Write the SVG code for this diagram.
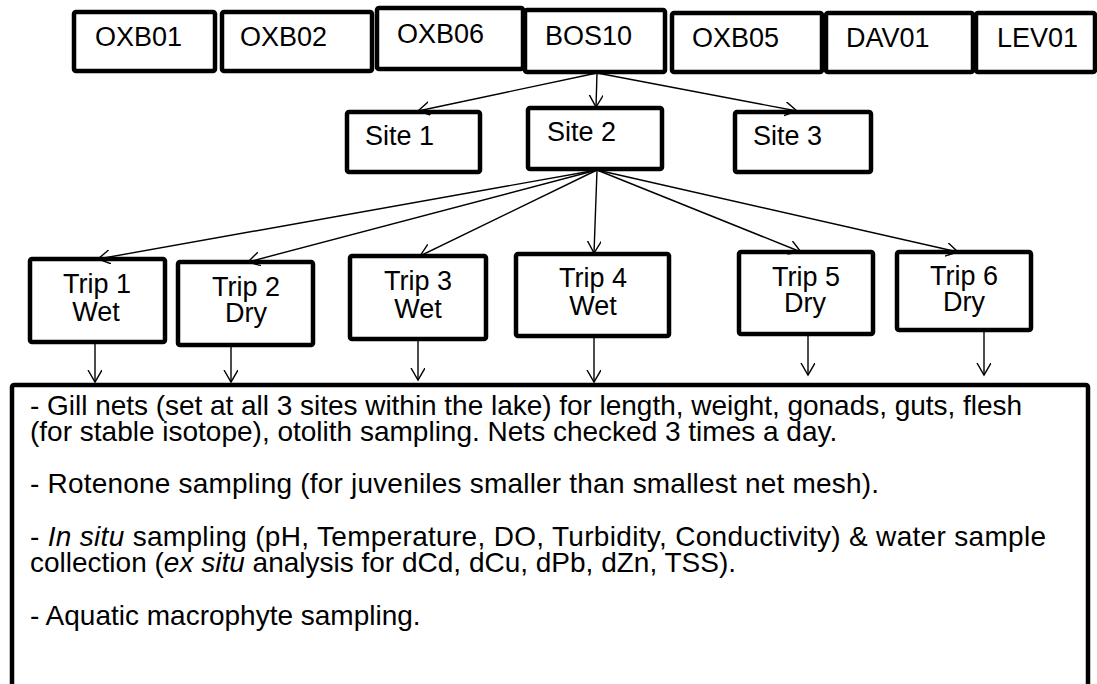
<svg xmlns="http://www.w3.org/2000/svg" width="1097" height="684" viewBox="0 0 1097 684">
  <defs>
    <style>
      .box { fill: #ffffff; stroke: #000000; stroke-width: 4.5; }
      .lbl { font-family: "Liberation Sans", Arial, Helvetica, sans-serif; font-size: 27px; fill: #000000; }
      .body { font-family: "Liberation Sans", Arial, Helvetica, sans-serif; font-size: 28px; fill: #000000; }
      .mid { text-anchor: middle; }
      .edge { fill: none; stroke: #000000; stroke-width: 1.4; marker-end: url(#arrow); }
    </style>
    <marker id="arrow" markerUnits="userSpaceOnUse" markerWidth="16" markerHeight="16" refX="12" refY="7" orient="auto">
      <path d="M0,0 L12,7 L0,14" fill="none" stroke="#000000" stroke-width="1.4"/>
    </marker>
  </defs>

  <rect width="1097" height="684" fill="#ffffff"/>

  <!-- lake row -->
  <g id="oxb01"><rect class="box" x="74" y="12" width="141" height="59" rx="2"/><text class="lbl" x="95" y="46">OXB01</text></g>
  <g id="oxb02"><rect class="box" x="222" y="12" width="150" height="59" rx="2"/><text class="lbl" x="240" y="46">OXB02</text></g>
  <g id="oxb06"><rect class="box" x="377" y="8" width="146" height="61" rx="2"/><text class="lbl" x="397" y="43">OXB06</text></g>
  <g id="bos10"><rect class="box" x="525" y="10" width="140" height="62" rx="2"/><text class="lbl" x="545" y="45">BOS10</text></g>
  <g id="oxb05"><rect class="box" x="672" y="13" width="150" height="59" rx="2"/><text class="lbl" x="692" y="47">OXB05</text></g>
  <g id="dav01"><rect class="box" x="826" y="13" width="147" height="59" rx="2"/><text class="lbl" x="846" y="47">DAV01</text></g>
  <g id="lev01"><rect class="box" x="976" y="13" width="119" height="59" rx="2"/><text class="lbl" x="997" y="47">LEV01</text></g>

  <!-- sites -->
  <g id="site1"><rect class="box" x="347" y="112" width="133" height="60" rx="2"/><text class="lbl" x="365" y="145">Site 1</text></g>
  <g id="site2"><rect class="box" x="528" y="108" width="134" height="61" rx="2"/><text class="lbl" x="547" y="141">Site 2</text></g>
  <g id="site3"><rect class="box" x="735" y="112" width="136" height="60" rx="2"/><text class="lbl" x="753" y="145">Site 3</text></g>

  <!-- trips -->
  <g id="trip1"><rect class="box" x="30" y="259" width="135" height="83" rx="2"/>
    <text class="lbl mid" x="97" y="293">Trip 1</text><text class="lbl mid" x="96" y="321">Wet</text></g>
  <g id="trip2"><rect class="box" x="178" y="262" width="135" height="83" rx="2"/>
    <text class="lbl mid" x="246" y="296">Trip 2</text><text class="lbl mid" x="246" y="322">Dry</text></g>
  <g id="trip3"><rect class="box" x="350" y="256" width="136" height="83" rx="2"/>
    <text class="lbl mid" x="418" y="290">Trip 3</text><text class="lbl mid" x="418" y="318">Wet</text></g>
  <g id="trip4"><rect class="box" x="516" y="254" width="153" height="82" rx="2"/>
    <text class="lbl mid" x="593" y="287">Trip 4</text><text class="lbl mid" x="593" y="315">Wet</text></g>
  <g id="trip5"><rect class="box" x="739" y="252" width="134" height="82" rx="2"/>
    <text class="lbl mid" x="806" y="286">Trip 5</text><text class="lbl mid" x="805" y="312">Dry</text></g>
  <g id="trip6"><rect class="box" x="897" y="252" width="134" height="78" rx="2"/>
    <text class="lbl mid" x="964" y="285">Trip 6</text><text class="lbl mid" x="964" y="311">Dry</text></g>

  <!-- sampling methods -->
  <g id="methods">
    <rect class="box" x="12" y="385" width="1076" height="320" rx="2"/>
    <text class="body" x="30" y="415" textLength="992">- Gill nets (set at all 3 sites within the lake) for length, weight, gonads, guts, flesh</text>
    <text class="body" x="30" y="441">(for stable isotope), otolith sampling. Nets checked 3 times a day.</text>
    <text class="body" x="30" y="493" textLength="849">- Rotenone sampling (for juveniles smaller than smallest net mesh).</text>
    <text class="body" x="30" y="546" textLength="1016">- <tspan font-style="italic">In situ</tspan> sampling (pH, Temperature, DO, Turbidity, Conductivity) &amp; water sample</text>
    <text class="body" x="30" y="572">collection (<tspan font-style="italic">ex situ</tspan> analysis for dCd, dCu, dPb, dZn, TSS).</text>
    <text class="body" x="30" y="625">- Aquatic macrophyte sampling.</text>
  </g>

  <!-- connectors -->
  <g id="connectors">
    <line class="edge" x1="597" y1="73" x2="418" y2="111"/>
    <line class="edge" x1="597" y1="73" x2="596" y2="107"/>
    <line class="edge" x1="597" y1="73" x2="797" y2="111"/>

    <line class="edge" x1="597" y1="170" x2="98" y2="259"/>
    <line class="edge" x1="597" y1="170" x2="248" y2="262"/>
    <line class="edge" x1="597" y1="170" x2="420" y2="256"/>
    <line class="edge" x1="597" y1="170" x2="594" y2="253"/>
    <line class="edge" x1="597" y1="170" x2="801" y2="252"/>
    <line class="edge" x1="597" y1="170" x2="958" y2="252"/>

    <line class="edge" x1="95" y1="344" x2="95" y2="382"/>
    <line class="edge" x1="231" y1="347" x2="231" y2="382"/>
    <line class="edge" x1="418" y1="341" x2="418" y2="380"/>
    <line class="edge" x1="594" y1="338" x2="594" y2="382"/>
    <line class="edge" x1="808" y1="336" x2="808" y2="375"/>
    <line class="edge" x1="984" y1="332" x2="984" y2="375"/>
  </g>
</svg>
